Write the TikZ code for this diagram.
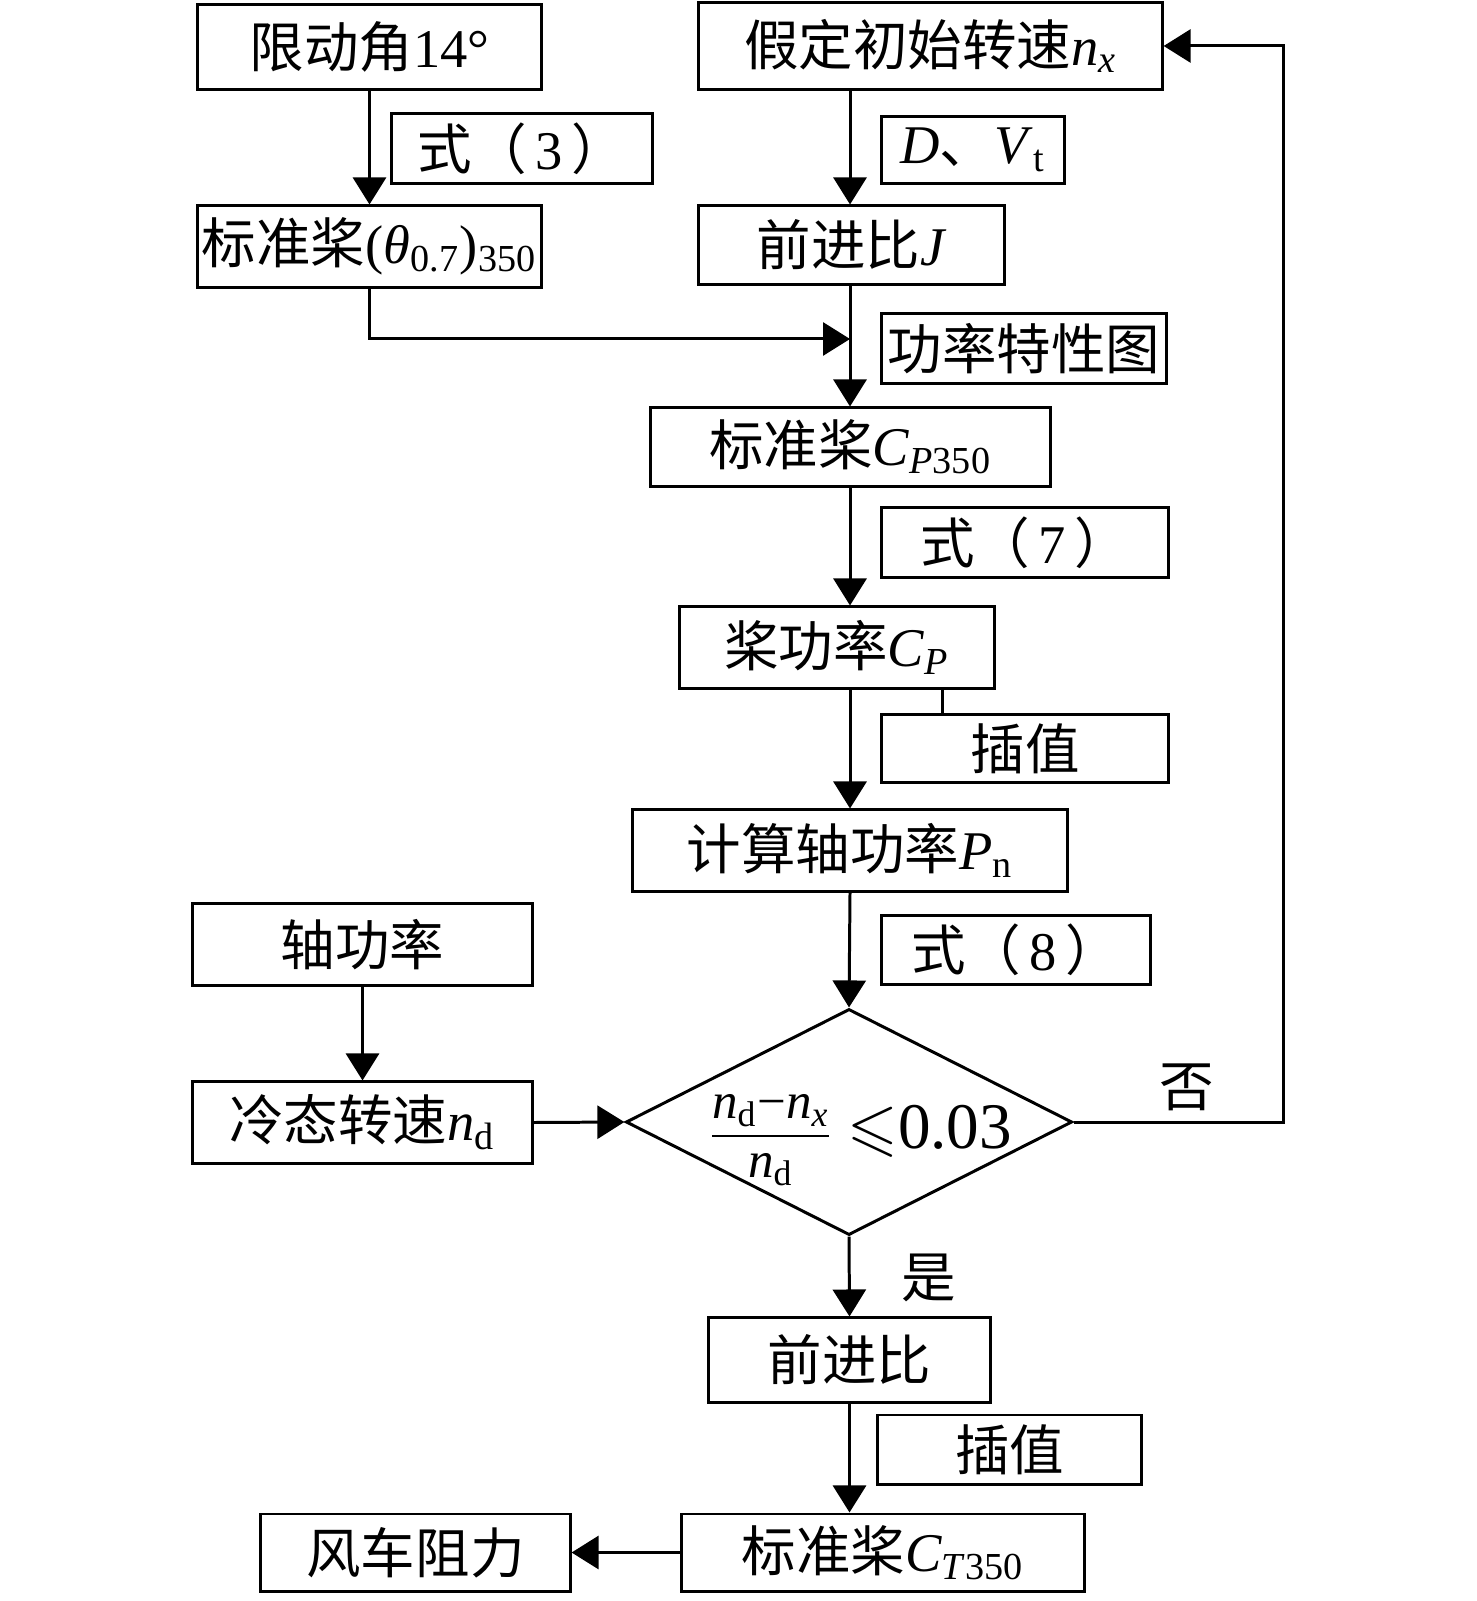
\documentclass[tikz,border=0pt]{standalone}
\usepackage{amsmath}
\usepackage{amssymb}
\usepackage{fontspec}
\setmainfont{Liberation Serif}
\newfontfamily\cjk{Noto Sans CJK SC}
\usetikzlibrary{arrows.meta,shapes.geometric}

\newcommand{\zh}[1]{{\cjk #1}}
\newcommand{\nsub}[1]{\textit{n}\textsubscript{#1}}

\begin{document}
\begin{tikzpicture} [x = 0.01cm, y = -0.01cm, line width = 0.85pt,
  font = \fontsize{15.5}{18}\selectfont,
  box/.style = {draw, inner sep = 0pt},
  dec/.style = {draw, diamond, inner sep = 0pt, minimum width = 4.46cm, minimum height = 2.26cm},
  arr/.style = {-{Triangle[length = 2.7mm, width = 3.3mm]}}]
\useasboundingbox (0, 0) rectangle (1476, 1601);
\coordinate (spine) at (850, 0);
\coordinate (merge) at (850, 339);
\coordinate (tap) at (942, 700);
\coordinate (back) at (1283, 600);
% left column
\node[box, minimum width = 3.43cm, minimum height = 0.84cm] (lim) at (369.5, 47) {\zh{限动角}14°};
\node[box, minimum width = 2.60cm, minimum height = 0.69cm] (eq3) at (522, 148.5) {\zh{式（}\,3\,\zh{）}};
\node[box, minimum width = 3.43cm, minimum height = 0.81cm] (theta) at (369.5, 246.5) {\zh{标准桨}(\textit{θ}\textsubscript{0.7})\textsubscript{350}};
\node[box, minimum width = 3.39cm, minimum height = 0.81cm] (shaft) at (362.5, 944.5) {\zh{轴功率}};
\node[box, minimum width = 3.39cm, minimum height = 0.81cm] (nd) at (362.5, 1122.5) {\zh{冷态转速}\nsub{d}};
\node[box, minimum width = 3.09cm, minimum height = 0.77cm] (drag) at (415.5, 1552.5) {\zh{风车阻力}};
% main column
\node[box, minimum width = 4.63cm, minimum height = 0.86cm] (nx) at (930.5, 46) {\zh{假定初始转速}\nsub{\textit{x}}};
\node[box, minimum width = 1.82cm, minimum height = 0.66cm] (dv) at (973, 150) {\textit{D}\zh{、}\textit{V}\textsubscript{t}};
\node[box, minimum width = 3.05cm, minimum height = 0.78cm] (adv) at (851.5, 245) {\zh{前进比}\textit{J}};
\node[box, minimum width = 2.84cm, minimum height = 0.69cm] (chart) at (1024, 348.5) {\zh{功率特性图}};
\node[box, minimum width = 3.99cm, minimum height = 0.78cm] (cp350) at (850.5, 447) {\zh{标准桨}\textit{C}\textsubscript{\textit{P}350}};
\node[box, minimum width = 2.86cm, minimum height = 0.69cm] (eq7) at (1025, 542.5) {\zh{式（}\,7\,\zh{）}};
\node[box, minimum width = 3.14cm, minimum height = 0.81cm] (cp) at (837, 647.5) {\zh{桨功率}\textit{C}\textsubscript{\textit{P}}};
\node[box, minimum width = 2.86cm, minimum height = 0.67cm] (intpa) at (1025, 748.5) {\zh{插值}};
\node[box, minimum width = 4.34cm, minimum height = 0.81cm] (pn) at (850, 850.5) {\zh{计算轴功率}\textit{P}\textsubscript{n}};
\node[box, minimum width = 2.68cm, minimum height = 0.68cm] (eq8) at (1016, 950) {\zh{式（}\,8\,\zh{）}};
\node[dec] (check) at (849, 1122) {};
\node[font = \fontsize{14.5}{16}\selectfont] (ratio) at (860, 1140) {$\frac{\mbox{\nsub{d}−\nsub{\textit{x}}}\rule[-4pt]{0pt}{1pt}}{\rule{0pt}{11pt}\mbox{\nsub{d}}}$\;{\fontsize{18.5}{20}\selectfont$\leqslant$0.03}};
\node (no) at (1187, 1087) {\zh{否}};
\node (yes) at (929, 1278) {\zh{是}};
\node[box, minimum width = 2.81cm, minimum height = 0.84cm] (jratio) at (849.5, 1360) {\zh{前进比}};
\node[box, minimum width = 2.63cm, minimum height = 0.69cm] (intpb) at (1009.5, 1449.5) {\zh{插值}};
\node[box, minimum width = 4.02cm, minimum height = 0.77cm] (ct350) at (883, 1552.5) {\zh{标准桨}\textit{C}\textsubscript{\textit{T}350}};
% connectors
\draw[arr] (lim.south) -- (theta.north);
\draw[arr] (theta.south) |- (merge);
\draw[arr] (nx.south -| spine) -- (adv.north -| spine);
\draw[arr] (adv.south -| spine) -- (cp350.north -| spine);
\draw[arr] (cp350.south -| spine) -- (cp.north -| spine);
\draw (cp.south -| tap) -- (intpa.north -| tap);
\draw[arr] (cp.south -| spine) -- (pn.north -| spine);
\draw[arr] (pn.south -| spine) -- (check.north);
\draw[arr] (shaft.south) -- (nd.north);
\draw[arr] (nd.east) -- (check.west);
\draw[arr] (check.east) -| (back) |- (nx.east);
\draw[arr] (check.south) -- (jratio.north);
\draw[arr] (jratio.south) -- (ct350.north -| jratio.south);
\draw[arr] (ct350.west) -- (drag.east);
\end{tikzpicture}
\end{document}
